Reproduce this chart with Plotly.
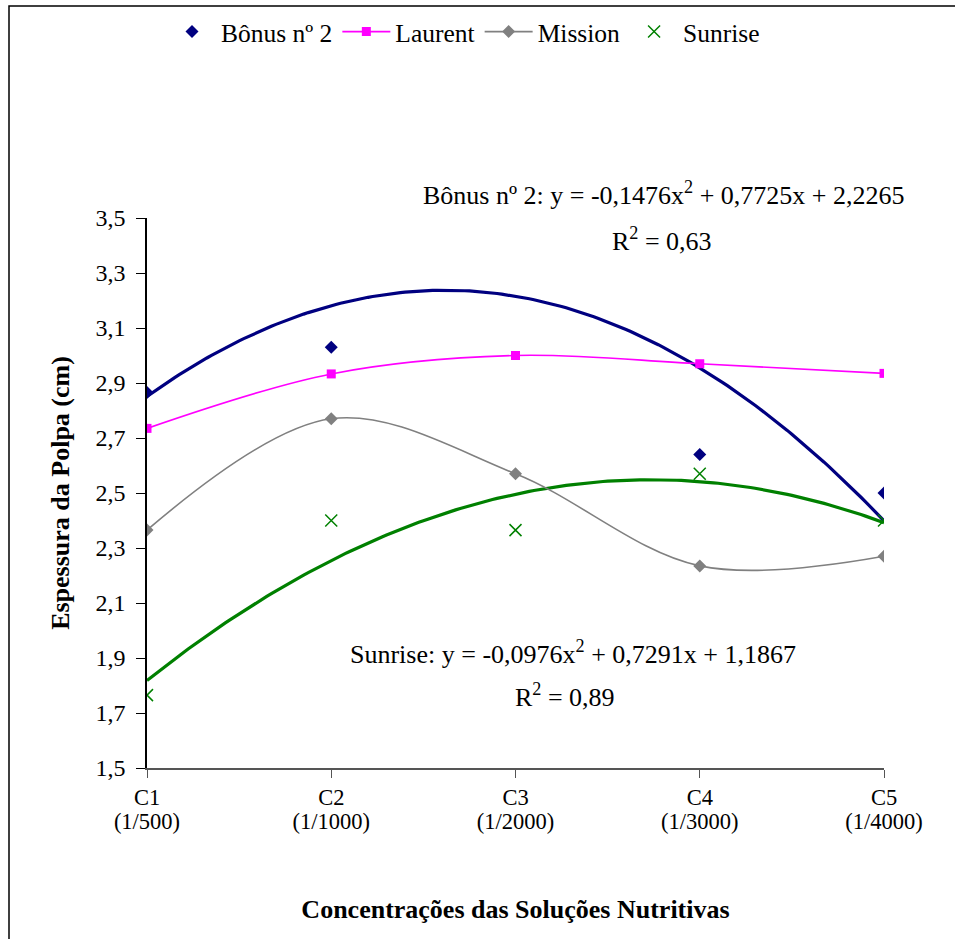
import numpy as np
import plotly.graph_objects as go

# ---- data ----
x_pos = [1, 2, 3, 4, 5]
tick_top = ["C1", "C2", "C3", "C4", "C5"]
tick_bottom = ["(1/500)", "(1/1000)", "(1/2000)", "(1/3000)", "(1/4000)"]
y_ticks = [1.5, 1.7, 1.9, 2.1, 2.3, 2.5, 2.7, 2.9, 3.1, 3.3, 3.5]
bonus = [2.865, 3.03, 3.565, 2.64, 2.50]
laurent = [2.735, 2.933, 3.0, 2.97, 2.935]
mission = [2.365, 2.77, 2.57, 2.235, 2.27]
sunrise = [1.765, 2.40, 2.365, 2.57, 2.40]
bonus_coef = [-0.1476, 0.7725, 2.2265]
sunrise_coef = [-0.0976, 0.7291, 1.1867]
bonus_eq = "Bônus nº 2: y = -0,1476x<sup>2</sup> + 0,7725x + 2,2265"
bonus_r2 = "R<sup>2</sup> = 0,63"
sunrise_eq = "Sunrise: y = -0,0976x<sup>2</sup> + 0,7291x + 1,1867"
sunrise_r2 = "R<sup>2</sup> = 0,89"

FONT = "Liberation Serif"
xs = np.linspace(1, 5, 161)

fig = go.Figure()
# invisible helper trace so the second (label) x axis is drawn
fig.add_trace(go.Scatter(x=x_pos, y=laurent, xaxis="x2", yaxis="y", mode="markers",
                         marker=dict(opacity=0), showlegend=False, hoverinfo="skip"))
# trendlines
fig.add_trace(go.Scatter(x=xs, y=np.polyval(bonus_coef, xs), mode="lines",
                         line=dict(color="#000080", width=3.2), showlegend=False, hoverinfo="skip"))
fig.add_trace(go.Scatter(x=xs, y=np.polyval(sunrise_coef, xs), mode="lines",
                         line=dict(color="#008000", width=3.2), showlegend=False, hoverinfo="skip"))
# series
fig.add_trace(go.Scatter(x=x_pos, y=bonus, mode="markers", name="Bônus nº 2",
                         marker=dict(symbol="diamond", color="#000080", size=10)))
fig.add_trace(go.Scatter(x=x_pos, y=laurent, mode="lines+markers", name="Laurent",
                         line=dict(color="#FF00FF", width=1.6, shape="spline"),
                         marker=dict(symbol="square", color="#FF00FF", size=9)))
fig.add_trace(go.Scatter(x=x_pos, y=mission, mode="lines+markers", name="Mission",
                         line=dict(color="#808080", width=1.6, shape="spline"),
                         marker=dict(symbol="diamond", color="#808080", size=10)))
fig.add_trace(go.Scatter(x=x_pos, y=sunrise, mode="markers", name="Sunrise",
                         marker=dict(symbol="x-thin-open", color="#008000", size=12,
                                     line=dict(color="#008000", width=1.5))))

L, R, T, B = 147, 884, 218, 768
W, H = 955, 939
def px(xp):
    return (xp - L) / (R - L)
def py(yp):
    return (B - yp) / (B - T)

annots = [
    dict(text=bonus_eq, x=px(664), y=py(193)),
    dict(text=bonus_r2, x=px(662), y=py(239)),
    dict(text=sunrise_eq, x=px(573), y=py(652)),
    dict(text=sunrise_r2, x=px(565), y=py(695)),
]
annotations = [dict(xref="paper", yref="paper", xanchor="center", yanchor="middle",
                    showarrow=False, font=dict(family=FONT, size=26, color="black"), **a)
               for a in annots]

fig.update_layout(
    width=W, height=H,
    margin=dict(l=L, r=W - R, t=T, b=H - B, autoexpand=False),
    paper_bgcolor="white", plot_bgcolor="white",
    separators=",.",
    font=dict(family=FONT, size=22, color="black"),
    showlegend=True,
    legend=dict(orientation="h", x=px(163), y=py(32), xanchor="left", yanchor="middle",
                font=dict(family=FONT, size=25.5, color="black"), bgcolor="rgba(0,0,0,0)",
                itemwidth=48, tracegroupgap=0),
    xaxis=dict(range=[1, 5], tickvals=x_pos, ticktext=tick_top, showgrid=False,
               zeroline=False, showline=True, linecolor="#555555", linewidth=1.5,
               ticks="outside", ticklen=8, tickcolor="#555555",
               tickfont=dict(family=FONT, size=22.5), ticklabelstandoff=0),
    xaxis2=dict(range=[1, 5], tickvals=x_pos, ticktext=tick_bottom, overlaying="x",
                anchor="y", side="bottom", showgrid=False, zeroline=False, showline=False,
                ticks="", tickfont=dict(family=FONT, size=22.5), ticklabelstandoff=37,
                title=dict(text="<b>Concentrações das Soluções Nutritivas</b>",
                           font=dict(family=FONT, size=26), standoff=67)),
    yaxis=dict(range=[1.5, 3.5], tickvals=y_ticks,
               tickformat=".1f", showgrid=False, zeroline=False, showline=True,
               linecolor="black", linewidth=1.5, ticks="outside", ticklen=9, tickcolor="black",
               tickfont=dict(family=FONT, size=24), ticklabelstandoff=6,
               title=dict(text="<b>Espessura da Polpa (cm)</b>",
                          font=dict(family=FONT, size=26), standoff=18)),
    annotations=annotations,
    shapes=[dict(type="rect", xref="paper", yref="paper",
                 x0=px(9), x1=px(970), y0=py(955), y1=py(6),
                 line=dict(color="black", width=1.5), fillcolor="rgba(0,0,0,0)", layer="below")],
)

fig.write_html("out.html")
